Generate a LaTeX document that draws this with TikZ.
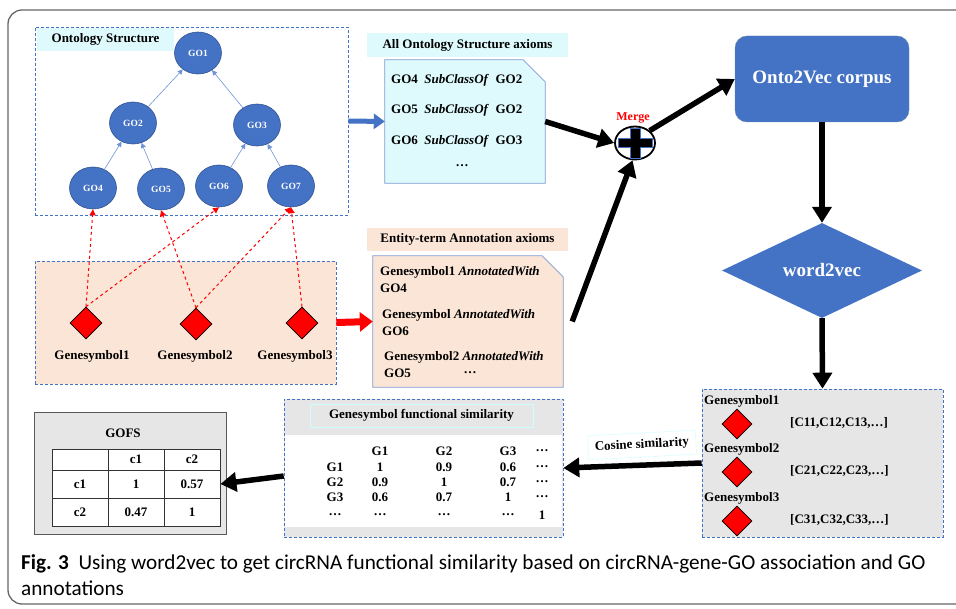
\documentclass[tikz,border=0pt]{standalone}
\usepackage{fontspec}
\setmainfont{Liberation Serif}
\newfontfamily\capfont{Carlito}
\usetikzlibrary{arrows.meta,positioning,shapes.geometric}
\definecolor{goBlue}{HTML}{4472C4}
\definecolor{goEdge}{HTML}{2F528F}
\definecolor{isaBlue}{HTML}{6F93D6}
\definecolor{paleCyan}{HTML}{DEFAFD}
\definecolor{peach}{HTML}{FBE5D6}
\definecolor{paleGray}{HTML}{E7E6E6}
\definecolor{noteLine}{HTML}{7F9BD0}

\begin{document}
\begin{tikzpicture}[x=1pt,y=-1pt,
  every node/.style={font=\fontsize{13}{15}\selectfont\bfseries,inner sep=1pt},
  dbox/.style={draw=goBlue,densely dashed,line width=0.6pt,inner sep=0pt},
  tag/.style={inner sep=0pt,minimum height=23},
  goterm/.style={ellipse,fill=goBlue,draw=goEdge,line width=0.6pt,minimum width=47,minimum height=42,
    inner sep=0pt,text=white,font=\fontsize{9.5}{10}\selectfont\bfseries},
  gsym/.style={diamond,fill=red,draw=black,line width=0.6pt,minimum width=32,minimum height=32,inner sep=0pt},
  note/.style={draw=noteLine,line width=0.8pt},
  cell/.style={draw=black!80,fill=white,line width=0.8pt,minimum width=56,inner sep=0pt},
  isa/.style={isaBlue,line width=0.6pt,-{Triangle[length=5pt,width=5pt]}},
  anno/.style={red,dashed,line width=1pt,-{Triangle[length=6pt,width=6pt]}},
  bar/.style={line width=5.5pt,-{Triangle[length=16pt,width=19pt]}}]
\useasboundingbox (0,0) rectangle (956,609);
\draw[black!60,line width=1.3pt,rounded corners=14pt] (990,604) -- (8,604) -- (8,10) -- (990,10);

% ontology tree
\node[dbox,minimum width=313,minimum height=188] (onto) at (191.5,121) {};
\node[tag,fill=paleCyan,minimum width=137] (ontotag) at (105.5,39.5) {Ontology Structure};
\node[goterm] (go1) at (198,53) {GO1};
\node[goterm] (go2) at (133,123) {GO2};
\node[goterm] (go3) at (257,125) {GO3};
\node[goterm] (go4) at (93,188) {GO4};
\node[goterm] (go5) at (161,189) {GO5};
\node[goterm] (go6) at (219,186) {GO6};
\node[goterm] (go7) at (291,186) {GO7};
\draw[isa] (go2) -- (go1);
\draw[isa] (go3) -- (go1);
\draw[isa] (go4) -- (go2);
\draw[isa] (go5) -- (go2);
\draw[isa] (go6) -- (go3);
\draw[isa] (go7) -- (go3);

% gene symbols
\node[dbox,fill=peach,minimum width=301,minimum height=123] (genes) at (185.5,322.5) {};
\node[gsym] (gs1) at (86,323) {};
\node[gsym] (gs2) at (196,324) {};
\node[gsym] (gs3) at (302,323) {};
\node (gl1) at (92,356) {Genesymbol1};
\node (gl2) at (195,356) {Genesymbol2};
\node (gl3) at (295,356) {Genesymbol3};
\draw[anno] (gs1.north) -- (go4.south);
\draw[anno] (gs1.north) -- (go6.south);
\draw[anno] (gs2.north) -- (go5.south);
\draw[anno] (gs2.north) -- (go7.south);
\draw[anno] (gs3.north) -- (go7.south);

% axiom notes
\node[tag,fill=paleCyan,minimum width=201,minimum height=24] (axtag) at (467.5,45) {All Ontology Structure axioms};
\node[inner sep=0pt,minimum width=160,minimum height=123] (ax) at (465,121.5) {};
\filldraw[note,fill=paleCyan] (ax.south west) -- (ax.north west) -- ([xshift=-22pt]ax.north east)
  -- ([yshift=-22pt]ax.north east) -- (ax.south east) -- cycle;
\foreach \a/\b/\y [count=\i] in {GO4/GO2/80,GO5/GO2/110,GO6/GO3/141}
  \node[anchor=west] (ax\i) at (390,\y) {\a\ \ \textit{SubClassOf}\ \ \b};
\node (axdots) at (462,166) {\ldots};

\node[tag,fill=peach,minimum width=201] (entag) at (467.5,239.5) {Entity-term Annotation axioms};
\node[inner sep=0pt,minimum width=190,minimum height=131] (en) at (468,321.5) {};
\filldraw[note,fill=peach] (en.south west) -- (en.north west) -- ([xshift=-21pt]en.north east)
  -- ([yshift=-21pt]en.north east) -- (en.south east) -- cycle;
\foreach \a/\b/\x/\y [count=\i] in {Genesymbol1/GO4/379/272,Genesymbol/GO6/381/315,Genesymbol2/GO5/383/357}{
  \node[anchor=west] (en\i) at (\x,\y) {\a\ \textit{AnnotatedWith}};
  \node[anchor=west] (eg\i) at (\x,\y+16) {\b};
}
\node (endots) at (470,373) {\ldots};

\draw[goBlue,line width=5pt,-{Triangle[length=11pt,width=15pt]}] (onto.east) -- (ax.west);
\draw[red,line width=7pt,-{Triangle[length=13pt,width=19pt]}] (genes.east) -- (en.west);

% merge
\node[ellipse,draw=black,fill=white,line width=1.8pt,minimum width=40,minimum height=33,inner sep=0pt] (merge) at (635,143) {};
\begin{scope}[shift={(merge.center)}]
  \filldraw[fill=black,draw=goBlue,line width=0.6pt] (-17,-4.5) -- (-5,-4.5) -- (-5,-15) -- (5,-15) -- (5,-4.5)
    -- (17,-4.5) -- (17,4.5) -- (5,4.5) -- (5,15) -- (-5,15) -- (-5,4.5) -- (-17,4.5) -- cycle;
\end{scope}
\node[text=red,font=\fontsize{12}{14}\selectfont\bfseries] (mergetag) at (633,118) {Merge};
\draw[bar] (ax.east) -- (merge.west);
\draw[bar] ([xshift=9pt]en.east) -- (merge.262);

% embedding pipeline
\node[rounded corners=12pt,fill=goBlue,draw=goEdge!70,minimum width=174,minimum height=86,text=white,
  font=\fontsize{19}{22}\selectfont\bfseries] (corpus) at (822,79) {Onto2Vec corpus};
\node[diamond,fill=goBlue,minimum width=200,minimum height=95,inner sep=0pt,text=white,
  font=\fontsize{19}{22}\selectfont\bfseries] (w2v) at (822,270.5) {word2vec};
\draw[bar] (merge.40) -- (corpus.west);
\draw[bar] (corpus.south) -- (w2v.north);

\node[dbox,fill=paleGray,minimum width=241,minimum height=148] (vec) at (822.5,463) {};
\draw[bar] (w2v.south) -- (vec.north);
\foreach \n/\y [count=\i] in {1/401,2/449,3/498}{
  \node[anchor=west] (vl\i) at (703,\y) {Genesymbol\n};
  \node[gsym,minimum width=30,minimum height=30] (vd\i) at (737,\y+23) {};
  \node[anchor=west] (vv\i) at (789,\y+22) {[C\n1,C\n2,C\n3,\ldots]};
}

% similarity matrix
\node[dbox,fill=paleGray,minimum width=279,minimum height=138] (sim) at (423.5,468) {};
\fill[white] (285,435) rectangle (562,527);
\node[draw=paleCyan!60!cyan!40,fill=paleGray,minimum width=223,minimum height=23,inner sep=0pt] (simtag) at (421.5,415.5) {Genesymbol functional similarity};
\foreach \y/\a/\b/\c/\d/\e [count=\r] in {451/{}/G1/G2/G3/\ldots,467/G1/1/0.9/0.6/\ldots,482/G2/0.9/1/0.7/\ldots,
  497/G3/0.6/0.7/1/\ldots,515/\ldots/\ldots/\ldots/\ldots/1}{
  \node (s\r a) at (335,\y) {\a};
  \node (s\r b) at (380,\y) {\b};
  \node (s\r c) at (444,\y) {\c};
  \node (s\r d) at (508,\y) {\d};
  \node (s\r e) at (542,\y) {\e};
}
\node[draw=paleCyan!60!cyan!40,fill=white,rotate=3,minimum width=108,minimum height=24,inner sep=0pt] (cos) at (642,445) {Cosine similarity};
\draw[bar] (vec.west) -- (sim.east);

% GOFS table
\node[draw=black!65,fill=paleGray,line width=0.8pt,minimum width=192,minimum height=122,inner sep=0pt] (gofs) at (130,473) {};
\node (gofstag) at (123,433) {GOFS};
\foreach \y/\h/\a/\b/\c [count=\r] in {459.5/21/{}/c1/c2,484/28/c1/1/0.57,512/28/c2/0.47/1}{
  \node[cell,minimum height=\h] (t\r a) at (80,\y) {\a};
  \node[cell,minimum height=\h] (t\r b) at (136,\y) {\b};
  \node[cell,minimum height=\h] (t\r c) at (192,\y) {\c};
}
\draw[bar] ([yshift=-8pt]sim.west) -- (t2c.east);

\node[anchor=north west,align=left,font=\capfont\fontsize{21.2}{26}\selectfont] (cap) at (20,553)
  {\textbf{Fig. 3}\ \ Using word2vec to get circRNA functional similarity based on circRNA-gene-GO association and GO\\annotations};
\end{tikzpicture}
\end{document}
